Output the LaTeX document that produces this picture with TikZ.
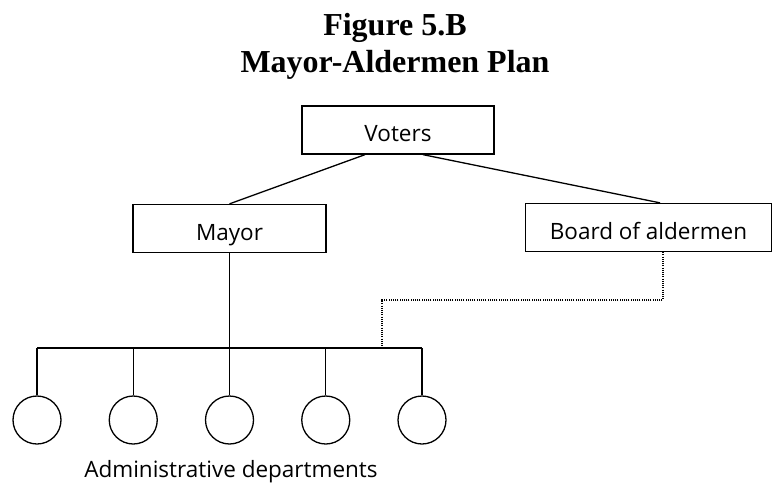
\documentclass[tikz,border=0pt]{standalone}
\usepackage{fontspec}
\setmainfont{Liberation Serif}
\newfontfamily\boxfont{Open Sans}
\usetikzlibrary{positioning}

\begin{document}
\begin{tikzpicture}[x=1pt, y=-1pt,
  office/.style={draw, line width=1.3pt, inner sep=0pt, minimum height=48pt,
    text height=23pt, text depth=0pt, font=\boxfont\fontsize{22.5}{26}\selectfont},
  dept/.style={draw, circle, line width=1.3pt, minimum size=48pt, inner sep=0pt},
  link/.style={line width=1.3pt},
  heading/.style={anchor=base, font=\bfseries\fontsize{32}{36}\selectfont}]
  \useasboundingbox (0,0) rectangle (773,482);
  % title
  \node[heading] (fig) at (395,35) {Figure 5.B};
  \node[heading] (plan) at (395,72) {Mayor-Aldermen Plan};
  % offices
  \node[office, minimum width=192pt] (voters) at (398,130) {Voters};
  \node[office, minimum width=193pt] (mayor) at (229.5,228.5) {Mayor};
  \node[office, minimum width=246pt] (board) at (648.5,227.5) {Board of aldermen};
  \draw[link] ([xshift=-33pt]voters.south) -- (mayor.north);
  \draw[link] ([xshift=25pt]voters.south) -- ([xshift=11.5pt]board.north);
  % departments
  \coordinate (busL) at (37,348);
  \coordinate (busR) at (422,348);
  \coordinate (tap) at (382,348);
  \draw[link] (mayor.south) -- (mayor.south |- busL);
  \draw[link] (busL) -- (busR);
  \foreach \i in {0,...,4} {
    \node[dept] (dept\i) at (37+96.25*\i,420) {};
    \draw[link] (dept\i.north) -- (dept\i.north |- busL);
  }
  \node[anchor=base, font=\boxfont\fontsize{22.5}{26}\selectfont] (deptlabel) at (231,477) {Administrative departments};
  \draw[link, line width=1.1pt, dash pattern=on 1.1pt off 1.1pt]
    ([xshift=14.5pt]board.south) |- ([yshift=48pt]tap) -- (tap);
\end{tikzpicture}
\end{document}
